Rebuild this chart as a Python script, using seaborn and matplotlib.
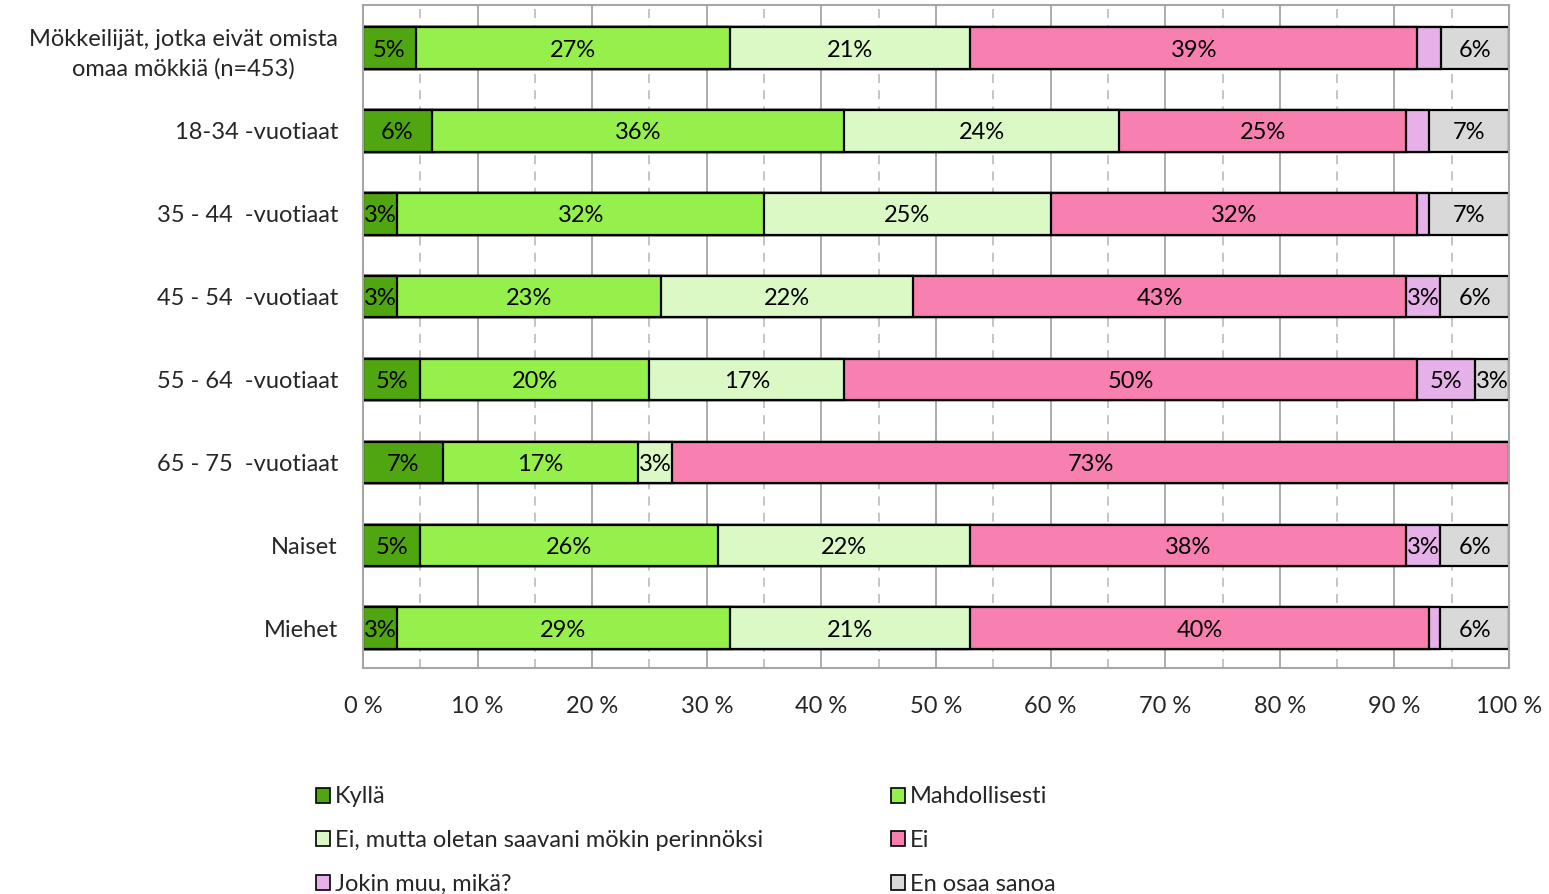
import matplotlib
matplotlib.use("Agg")
import matplotlib.pyplot as plt
from matplotlib.patches import Patch
import seaborn as sns
import pandas as pd
import numpy as np

sns.set_theme(style="white")
plt.rcParams['font.family'] = ['Lato', 'DejaVu Sans']

groups = ["Mökkeilijät, jotka eivät omista\nomaa mökkiä (n=453)", "18-34 -vuotiaat",
          "35 - 44  -vuotiaat", "45 - 54  -vuotiaat", "55 - 64  -vuotiaat",
          "65 - 75  -vuotiaat", "Naiset", "Miehet"]
answers = ["Kyllä", "Mahdollisesti", "Ei, mutta oletan saavani mökin perinnöksi",
           "Ei", "Jokin muu, mikä?", "En osaa sanoa"]
colors = ["#4FA611", "#95F04B", "#DAF9C5", "#F780B0", "#E6B0E8", "#D9D9D9"]

kylla = [4.6, 6, 3, 3, 5, 7, 5, 3]
mahdollisesti = [27.4, 36, 32, 23, 20, 17, 26, 29]
perinto = [21, 24, 25, 22, 17, 3, 22, 21]
ei = [39, 25, 32, 43, 50, 73, 38, 40]
muu = [2.1, 2, 1, 3, 5, 0, 3, 1]
eos = [5.9, 7, 7, 6, 3, 0, 6, 6]

values = np.array([kylla, mahdollisesti, perinto, ei, muu, eos])
cum = values.cumsum(axis=0)

FS = 17
fig, ax = plt.subplots(figsize=(15.49, 8.94), dpi=100)
fig.subplots_adjust(left=0.2343, right=0.9742, top=0.9944, bottom=0.2528)

# gridlines
for x in range(0, 101, 5):
    if x % 10 == 0:
        ax.axvline(x, color="#A6A6A6", lw=1.3, zorder=0)
    else:
        ax.axvline(x, color="#C0C0C0", lw=1.3, ls=(0, (5, 4)), zorder=0)

# stacked bars: draw cumulative totals from widest to narrowest
for i in reversed(range(len(answers))):
    df = pd.DataFrame({"group": groups, "cum": cum[i]})
    sns.barplot(data=df, x="cum", y="group", orient="h", color=colors[i],
                width=0.5, edgecolor="black", linewidth=1.6, saturation=1,
                ax=ax, zorder=2)

for i in range(len(answers)):
    for j in range(len(groups)):
        v = values[i, j]
        if v >= 2.5:
            ax.text(cum[i, j] - v / 2, j, f"{round(v)}%", ha="center", va="center_baseline",
                    fontsize=FS, color="black", zorder=3)

ax.set_xlim(0, 100)
ax.set_ylim(7.48, -0.52)
ax.set_xticks(range(0, 101, 10))
ax.set_xticklabels([f"{x} %" for x in range(0, 101, 10)], fontsize=FS)
ax.set_yticks(range(len(groups)))
ax.set_yticklabels(groups, fontsize=FS)
for lab in ax.get_yticklabels():
    lab.set_multialignment("center")
    lab.set_linespacing(1.45)
ax.tick_params(axis="x", length=0, pad=20)
ax.tick_params(axis="y", length=0, pad=18)
ax.set_xlabel("")
ax.set_ylabel("")
for s in ax.spines.values():
    s.set_color("#A6A6A6")
    s.set_linewidth(1.5)

order = [0, 2, 4, 1, 3, 5]
handles = [Patch(facecolor=colors[k], edgecolor="black", linewidth=1.2, label=answers[k]) for k in order]
fig.legend(handles=handles, loc="upper left", bbox_to_anchor=(0.198, 0.131), ncol=2,
           frameon=False, fontsize=FS, handlelength=0.6, handleheight=0.6,
           handletextpad=0.2, labelspacing=0.97, columnspacing=5.4, borderaxespad=0)

fig.savefig("out.png", dpi=100)
